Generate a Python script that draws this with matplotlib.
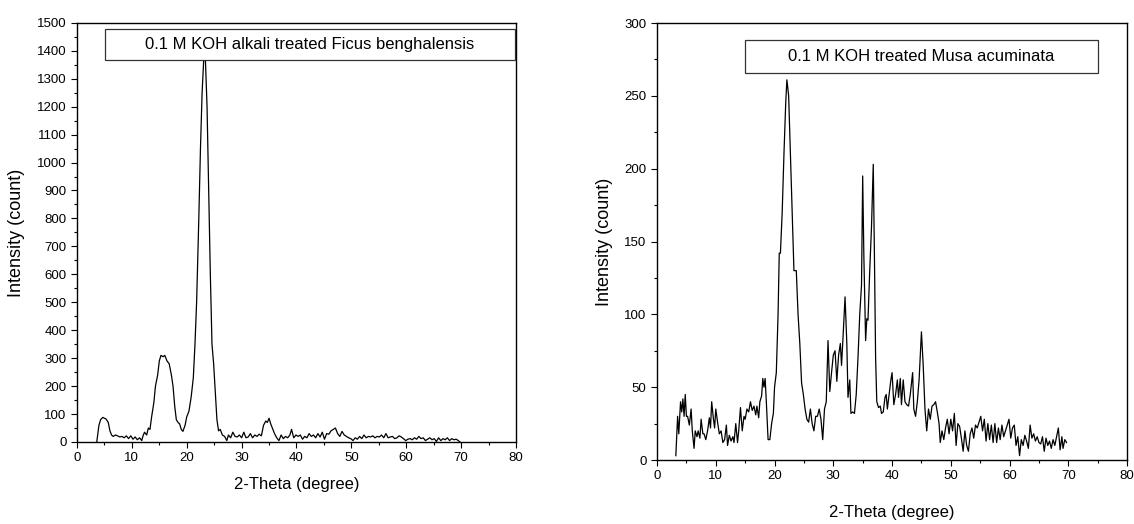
import matplotlib
matplotlib.use("Agg")
import matplotlib.pyplot as plt
from matplotlib.patches import Rectangle
from matplotlib.ticker import MultipleLocator

plt.rcParams['font.family'] = ['Liberation Sans', 'DejaVu Sans']

# left panel: 0.1 M KOH alkali treated Ficus benghalensis
ficus_theta = [3.6, 4.0, 4.3, 4.7, 5.0, 5.3, 5.7, 6.0, 6.3, 6.6, 7.0, 7.4, 7.8, 8.2, 8.6,
               9.0, 9.4, 9.8, 10.2, 10.6, 11.0, 11.4, 11.8, 12.0, 12.3, 12.7, 13.0, 13.3,
               13.6, 14.0, 14.3, 14.7, 15.0, 15.3, 15.7, 16.0, 16.4, 16.8, 17.2, 17.5, 17.8,
               18.1, 18.4, 18.7, 19.0, 19.3, 19.7, 20.0, 20.4, 20.8, 21.2, 21.5, 21.8, 22.2,
               22.5, 22.8, 23.1, 23.4, 23.7, 24.0, 24.3, 24.6, 24.9, 25.2, 25.5, 25.8, 26.1,
               26.5, 26.9, 27.3, 27.6, 28.0, 28.4, 28.8, 29.2, 29.6, 30.0, 30.4, 30.8, 31.2,
               31.6, 32.0, 32.4, 32.8, 33.2, 33.6, 34.0, 34.4, 34.7, 35.0, 35.3, 35.7, 36.0,
               36.4, 36.8, 37.2, 37.6, 38.0, 38.4, 38.8, 39.1, 39.5, 39.9, 40.3, 40.7, 41.1,
               41.5, 41.9, 42.3, 42.7, 43.1, 43.5, 43.9, 44.3, 44.7, 45.1, 45.5, 45.9, 46.3,
               46.7, 47.1, 47.5, 47.9, 48.3, 48.7, 49.1, 49.5, 49.9, 50.3, 50.7, 51.1, 51.5,
               51.9, 52.3, 52.7, 53.1, 53.5, 53.9, 54.3, 54.7, 55.1, 55.5, 55.9, 56.3, 56.7,
               57.1, 57.5, 57.9, 58.3, 58.7, 59.1, 59.5, 59.9, 60.3, 60.7, 61.1, 61.5, 61.9,
               62.3, 62.7, 63.1, 63.5, 63.9, 64.3, 64.7, 65.1, 65.5, 65.9, 66.3, 66.7, 67.1,
               67.5, 67.9, 68.3, 68.7, 69.1, 69.5, 69.8]
ficus_counts = [0, 60, 80, 88, 85, 82, 70, 40, 25, 20, 25, 22, 18, 20, 15,
                22, 12, 22, 10, 18, 8, 15, 5, 20, 35, 25, 50, 45,
                90, 140, 200, 240, 290, 310, 305, 310, 290, 280, 240, 200, 130,
                80, 70, 65, 45, 38, 60, 90, 110, 160, 230, 350, 500, 800,
                1050, 1250, 1370, 1370, 1200, 900, 600, 350, 280, 180, 80, 40, 45,
                25, 20, 5, 25, 15, 35, 20, 18, 25, 15, 35, 15, 18,
                30, 15, 25, 20, 28, 22, 60, 75, 70, 85, 65, 45, 30,
                15, 5, 25, 12, 20, 15, 25, 45, 15, 25, 20, 25, 10,
                20, 15, 30, 20, 25, 15, 30, 18, 35, 10, 30, 28, 40,
                45, 50, 30, 20, 38, 25, 20, 15, 12, 5, 15, 10, 20,
                12, 25, 15, 20, 18, 22, 15, 20, 18, 25, 15, 30, 15,
                18, 20, 12, 15, 22, 18, 12, 5, 10, 12, 8, 15, 10,
                20, 12, 15, 5, 10, 15, 8, 12, 2, 15, 5, 12, 8,
                15, 5, 12, 8, 10, 5, 0]

# right panel: 0.1 M KOH treated Musa acuminata
musa_theta = [3.2, 3.5, 3.7, 4.0, 4.2, 4.4, 4.6, 4.8, 5.0, 5.2, 5.5, 5.8, 6.0, 6.3, 6.5,
              6.8, 7.0, 7.3, 7.5, 7.8, 8.0, 8.3, 8.6, 8.9, 9.1, 9.3, 9.6, 9.8, 10.0, 10.3,
              10.6, 10.9, 11.2, 11.5, 11.8, 12.0, 12.3, 12.6, 12.9, 13.1, 13.4, 13.7, 13.9,
              14.2, 14.5, 14.8, 15.0, 15.3, 15.6, 15.9, 16.2, 16.5, 16.8, 17.0, 17.3, 17.5,
              17.8, 18.0, 18.2, 18.4, 18.6, 18.9, 19.2, 19.5, 19.8, 20.0, 20.3, 20.6, 20.8,
              21.0, 21.3, 21.6, 21.9, 22.1, 22.4, 22.7, 23.0, 23.3, 23.7, 24.0, 24.3, 24.6,
              24.9, 25.2, 25.5, 25.8, 26.1, 26.4, 26.7, 27.0, 27.3, 27.6, 27.9, 28.2, 28.5,
              28.8, 29.1, 29.4, 29.7, 30.0, 30.3, 30.6, 30.9, 31.2, 31.4, 31.6, 32.0, 32.3,
              32.5, 32.8, 33.0, 33.3, 33.6, 33.9, 34.2, 34.5, 34.8, 35.0, 35.2, 35.5, 35.7,
              35.9, 36.2, 36.5, 36.8, 37.0, 37.2, 37.4, 37.7, 38.0, 38.2, 38.5, 38.8, 39.0,
              39.2, 39.5, 39.8, 40.0, 40.3, 40.6, 40.9, 41.1, 41.4, 41.6, 41.9, 42.2, 42.5,
              42.8, 43.1, 43.5, 43.7, 44.0, 44.3, 44.6, 45.0, 45.3, 45.6, 45.9, 46.2, 46.5,
              46.8, 47.1, 47.4, 47.7, 48.0, 48.2, 48.5, 48.8, 49.1, 49.4, 49.7, 50.0, 50.3,
              50.6, 50.9, 51.2, 51.5, 51.8, 52.1, 52.4, 52.7, 53.0, 53.3, 53.6, 53.9, 54.2,
              54.5, 54.8, 55.1, 55.4, 55.7, 56.0, 56.3, 56.6, 56.9, 57.2, 57.5, 57.8, 58.1,
              58.4, 58.7, 59.0, 59.3, 59.6, 59.9, 60.2, 60.5, 60.8, 61.1, 61.4, 61.7, 62.0,
              62.3, 62.6, 62.9, 63.2, 63.5, 63.8, 64.1, 64.4, 64.7, 65.0, 65.3, 65.6, 65.9,
              66.2, 66.5, 66.8, 67.1, 67.4, 67.7, 68.0, 68.3, 68.6, 68.9, 69.1, 69.4, 69.7]
musa_counts = [3, 30, 18, 40, 33, 42, 30, 45, 30, 30, 24, 35, 20, 8, 20,
               16, 20, 15, 28, 18, 18, 14, 20, 29, 22, 40, 28, 22, 35, 26,
               18, 20, 12, 14, 24, 10, 17, 13, 16, 12, 25, 12, 20,
               36, 20, 30, 28, 35, 33, 40, 34, 37, 31, 37, 29, 40,
               44, 56, 50, 56, 40, 14, 14, 25, 32, 50, 60, 100, 142,
               142, 170, 210, 245, 261, 250, 210, 170, 130, 130, 100, 80, 53,
               45, 35, 28, 26, 35, 25, 20, 30, 30, 35, 28, 14, 35,
               40, 82, 47, 60, 72, 75, 54, 72, 80, 65, 80, 112, 80,
               43, 55, 32, 33, 32, 45, 70, 100, 120, 195, 140, 82, 97,
               96, 130, 160, 203, 140, 70, 40, 36, 37, 32, 33, 43, 45,
               35, 45, 55, 60, 38, 45, 55, 43, 56, 38, 55, 40, 38,
               37, 45, 60, 35, 30, 40, 55, 88, 65, 35, 20, 35, 28,
               37, 38, 40, 33, 25, 12, 20, 14, 22, 28, 18, 28, 20,
               32, 10, 25, 23, 15, 6, 20, 10, 6, 18, 22, 15, 24,
               22, 26, 30, 20, 28, 13, 25, 14, 24, 12, 25, 12, 22,
               14, 24, 16, 20, 24, 28, 15, 22, 24, 10, 16, 3, 14,
               10, 17, 13, 8, 24, 15, 18, 13, 16, 12, 11, 16, 6,
               15, 10, 13, 8, 14, 10, 16, 22, 7, 16, 8, 14, 12]

fig = plt.figure(figsize=(11.34, 5.24), dpi=100)
ax1 = fig.add_axes([0.0679, 0.1565, 0.3871, 0.800])
ax2 = fig.add_axes([0.5794, 0.1221, 0.4145, 0.834])

panels = [
    (ax1, ficus_theta, ficus_counts, 1500, 100, 50,
     "0.1 M KOH alkali treated Ficus benghalensis", (0.064, 0.912, 0.934, 0.074)),
    (ax2, musa_theta, musa_counts, 300, 50, 25,
     "0.1 M KOH treated Musa acuminata", (0.187, 0.886, 0.751, 0.075)),
]

for ax, x, y, ymax, major, minor, title, box in panels:
    ax.plot(x, y, color='black', lw=0.9, zorder=2)
    ax.set_xlim(0, 80)
    ax.set_ylim(0, ymax)
    ax.xaxis.set_major_locator(MultipleLocator(10))
    ax.xaxis.set_minor_locator(MultipleLocator(5))
    ax.yaxis.set_major_locator(MultipleLocator(major))
    ax.yaxis.set_minor_locator(MultipleLocator(minor))
    ax.tick_params(which='both', direction='out', top=False, right=False,
                   labelsize=9.5, width=0.8)
    ax.tick_params(which='major', length=4)
    ax.tick_params(which='minor', length=2.5)
    for s in ax.spines.values():
        s.set_linewidth(1.0)
    ax.set_xlabel("2-Theta (degree)", fontsize=12)
    ax.set_ylabel("Intensity (count)", fontsize=13)
    bx, by, bw, bh = box
    ax.add_patch(Rectangle((bx, by), bw, bh, transform=ax.transAxes,
                           facecolor='white', edgecolor='#333333', lw=0.9, zorder=3))
    ax.text(bx + bw / 2, by + bh / 2, title, transform=ax.transAxes,
            ha='center', va='center', fontsize=12, zorder=4)

ax1.xaxis.set_label_coords(0.5, -0.084)
ax1.yaxis.set_label_coords(-0.118, 0.5)
ax2.xaxis.set_label_coords(0.5, -0.103)
ax2.yaxis.set_label_coords(-0.094, 0.5)

fig.savefig("out.png", dpi=100)
